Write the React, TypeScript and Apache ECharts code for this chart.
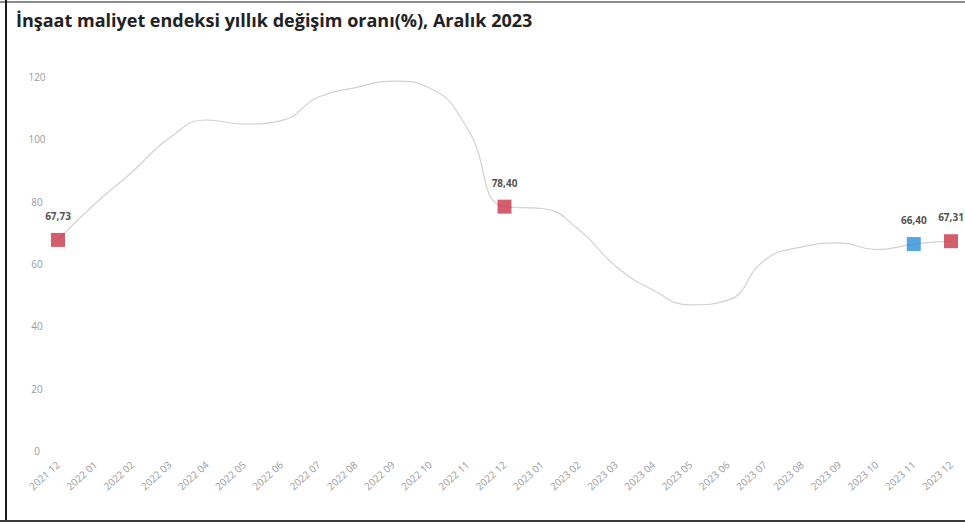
import React, { useEffect, useRef } from "react";
import * as echarts from "echarts";

// Monthly periods, Dec 2021 – Dec 2023
const months: string[] = [
  "2021 12",
  "2022 01", "2022 02", "2022 03", "2022 04", "2022 05", "2022 06",
  "2022 07", "2022 08", "2022 09", "2022 10", "2022 11", "2022 12",
  "2023 01", "2023 02", "2023 03", "2023 04", "2023 05", "2023 06",
  "2023 07", "2023 08", "2023 09", "2023 10", "2023 11", "2023 12",
];

// Annual change of the construction cost index (%)
const annualChange: number[] = [
  67.73, 79.4, 89.6, 100.5, 106.2, 104.9, 106.0, 113.6, 116.6, 118.7, 116.4, 103.5,
  78.4, 77.8, 71.0, 59.2, 51.6, 46.9, 48.4, 61.3, 65.5, 66.8, 64.6, 66.4, 67.31,
];

// Highlighted months and their marker colours
const highlightMonths: string[] = ["2021 12", "2022 12", "2023 11", "2023 12"];
const highlightColors: string[] = ["#c8374a", "#c8374a", "#2d8fd6", "#c8374a"];

const yTicks = { min: 0, max: 120, interval: 20 };

const title = "İnşaat maliyet endeksi yıllık değişim oranı(%), Aralık 2023";

export default function App() {
  const ref = useRef<HTMLDivElement>(null);

  useEffect(() => {
    if (!ref.current) return;
    const chart = echarts.init(ref.current, undefined, { renderer: "svg" });

    const markerData = highlightMonths.map((m, i) => {
      const idx = months.indexOf(m);
      return {
        value: [m, annualChange[idx]],
        itemStyle: { color: highlightColors[i] },
      };
    });

    chart.setOption({
      animation: false,
      backgroundColor: "#ffffff",
      title: {
        text: title,
        left: 11,
        top: 6,
        textStyle: {
          fontFamily: "Open Sans, sans-serif",
          fontSize: 18,
          fontWeight: "bold",
          color: "#222222",
        },
      },
      grid: { left: 58, right: 14, top: 77, bottom: 75, containLabel: false },
      xAxis: {
        type: "category",
        data: months,
        boundaryGap: false,
        axisLine: { show: false },
        axisTick: { show: false },
        axisLabel: {
          interval: 0,
          rotate: 42,
          margin: 12,
          fontSize: 10,
          color: "#9a9a9a",
          fontFamily: "Open Sans, sans-serif",
        },
        splitLine: { show: false },
      },
      yAxis: {
        type: "value",
        min: yTicks.min,
        max: yTicks.max,
        interval: yTicks.interval,
        axisLine: { show: false },
        axisTick: { show: false },
        splitLine: { show: false },
        axisLabel: {
          margin: 21,
          align: "center",
          fontSize: 10,
          color: "#9a9a9a",
          fontFamily: "Open Sans, sans-serif",
        },
      },
      series: [
        {
          type: "line",
          data: annualChange,
          smooth: true,
          symbol: "none",
          lineStyle: { color: "#d2d2d2", width: 1.2 },
          z: 2,
        },
        {
          type: "scatter",
          data: markerData,
          symbol: "rect",
          symbolSize: 14,
          z: 3,
          label: {
            show: true,
            position: "top",
            distance: 12,
            fontSize: 10,
            fontWeight: "bold",
            color: "#222222",
            fontFamily: "Open Sans, sans-serif",
            formatter: (p: any) => Number(p.value[1]).toFixed(2).replace(".", ","),
          },
        },
      ],
      graphic: [
        {
          type: "line",
          shape: { x1: 0, y1: 2, x2: 965, y2: 2 },
          style: { stroke: "#8a8a8a", lineWidth: 2 },
        },
        {
          type: "line",
          shape: { x1: 6, y1: 0, x2: 6, y2: 522 },
          style: { stroke: "#1a1a1a", lineWidth: 2 },
        },
        {
          type: "line",
          shape: { x1: 0, y1: 521, x2: 965, y2: 521 },
          style: { stroke: "#3a3a3a", lineWidth: 2 },
        },
      ],
    });

    return () => chart.dispose();
  }, []);

  return (
    <div
      ref={ref}
      style={{ position: "fixed", left: 0, top: 0, width: 965, height: 526, background: "#fff" }}
    />
  );
}
